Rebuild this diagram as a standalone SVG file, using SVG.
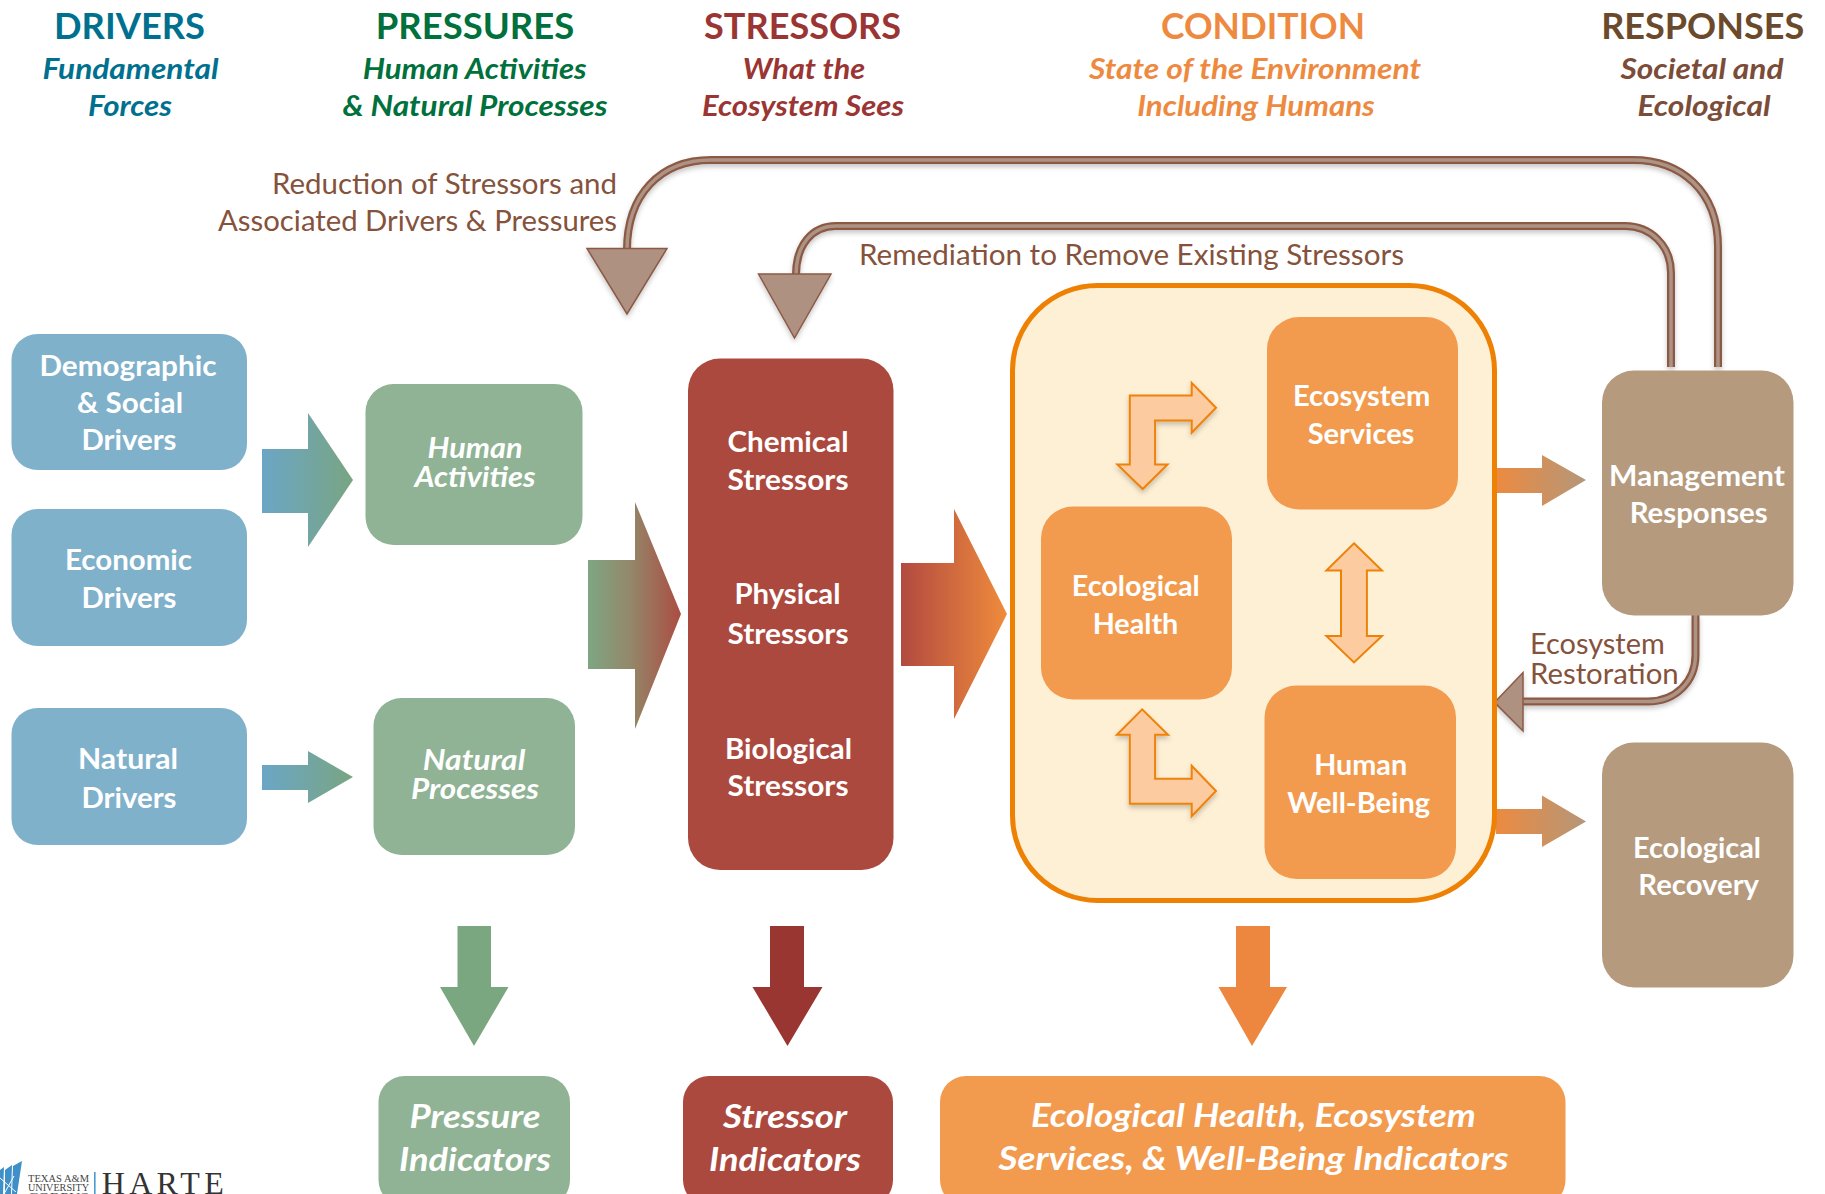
<svg xmlns="http://www.w3.org/2000/svg" width="1825" height="1194" viewBox="0 0 1825 1194">
<style>
text{font-family:Lato,"Liberation Sans",sans-serif;text-anchor:middle}
.h{font-size:37px;font-weight:700}
.s{font-size:28.5px;font-weight:700;font-style:italic}
.n{font-size:29px;font-weight:700;fill:#fff}
.ni{font-size:29px;font-weight:700;font-style:italic;fill:#fff}
.b{font-size:33px;font-weight:700;font-style:italic;fill:#fff}
.l{font-size:28.5px;fill:#85523c}
.blue{fill:#7fb1cb}.green{fill:#8fb394}.red{fill:#ab493f}.orange{fill:#f29b4f}.tan{fill:#b59a7e}
.dk{fill:none;stroke:#8b5a45;stroke-width:8}
.lt{fill:none;stroke:#ae9384;stroke-width:3.5}
.hd{fill:#ae9181;stroke:#8b5a45;stroke-width:1.5}
.dbl{fill:#fccba0;stroke:#ee8208;stroke-width:2}
.serif{font-family:"Liberation Serif",serif}
</style>
<defs>
<linearGradient id="gb"><stop offset="0" stop-color="#6ba6c6"/><stop offset="1" stop-color="#79a582"/></linearGradient>
<linearGradient id="gg"><stop offset="0" stop-color="#7ea683"/><stop offset="0.45" stop-color="#93886a"/><stop offset="1" stop-color="#ab4d42"/></linearGradient>
<linearGradient id="gr"><stop offset="0" stop-color="#b24a40"/><stop offset="1" stop-color="#ef8b3c"/></linearGradient>
<linearGradient id="go"><stop offset="0" stop-color="#ec8a40"/><stop offset="1" stop-color="#b4977a"/></linearGradient>
<filter id="sh" x="-20%" y="-20%" width="140%" height="140%"><feDropShadow dx="0" dy="3" stdDeviation="2.5" flood-color="#000" flood-opacity="0.22"/></filter>
</defs>

<g id="headers">
<text class="h" fill="#00708f" x="129.5" y="38.5" textLength="151" lengthAdjust="spacingAndGlyphs">DRIVERS</text>
<text class="s" fill="#00708f" x="130.5" y="78.7" textLength="176" lengthAdjust="spacingAndGlyphs">Fundamental</text>
<text class="s" fill="#00708f" x="130" y="115.7" textLength="84" lengthAdjust="spacingAndGlyphs">Forces</text>
<text class="h" fill="#00703c" x="475" y="38.5" textLength="198.5" lengthAdjust="spacingAndGlyphs">PRESSURES</text>
<text class="s" fill="#00703c" x="474.7" y="78.7" textLength="224" lengthAdjust="spacingAndGlyphs">Human Activities</text>
<text class="s" fill="#00703c" x="475" y="115.7" textLength="265" lengthAdjust="spacingAndGlyphs">&amp; Natural Processes</text>
<text class="h" fill="#9a3534" x="802.6" y="38.5" textLength="197" lengthAdjust="spacingAndGlyphs">STRESSORS</text>
<text class="s" fill="#9a3534" x="804" y="78.7" textLength="122.5" lengthAdjust="spacingAndGlyphs">What the</text>
<text class="s" fill="#9a3534" x="803" y="115.7" textLength="202" lengthAdjust="spacingAndGlyphs">Ecosystem Sees</text>
<text class="h" fill="#ee8a3f" x="1263" y="38.5" textLength="204" lengthAdjust="spacingAndGlyphs">CONDITION</text>
<text class="s" fill="#ee8a3f" x="1255" y="78.7" textLength="332" lengthAdjust="spacingAndGlyphs">State of the Environment</text>
<text class="s" fill="#ee8a3f" x="1256" y="115.7" textLength="237.5" lengthAdjust="spacingAndGlyphs">Including Humans</text>
<text class="h" fill="#6b4a2c" x="1702.7" y="38.5" textLength="203" lengthAdjust="spacingAndGlyphs">RESPONSES</text>
<text class="s" fill="#7b4c38" x="1702" y="78.7" textLength="163" lengthAdjust="spacingAndGlyphs">Societal and</text>
<text class="s" fill="#7b4c38" x="1704" y="115.7" textLength="133" lengthAdjust="spacingAndGlyphs">Ecological</text>
</g>

<g id="connectors">
<polygon fill="url(#gb)" points="262,449 308,449 308,413 353,480 308,547 308,513 262,513"/>
<polygon fill="url(#gb)" points="262,765 308,765 308,751 353,777 308,803 308,790 262,790"/>
<polygon fill="url(#gg)" points="588,560 635,560 635,502 681,614 635,729 635,669 588,669"/>
<polygon fill="url(#gr)" points="901,563 954,563 954,509 1007,614 954,719 954,666 901,666"/>
<polygon fill="url(#go)" points="1496,468 1542,468 1542,455 1586,480 1542,506 1542,493 1496,493"/>
<polygon fill="url(#go)" points="1496,809 1542,809 1542,795.5 1586,821.5 1542,847 1542,834 1496,834"/>
<polygon fill="#7ba780" points="457.5,926 491,926 491,987 508.5,987 474,1046 440,987 457.5,987"/>
<polygon fill="#993631" points="770,926 804,926 804,987 822.5,987 787.5,1046 752.5,987 770,987"/>
<polygon fill="#ed873f" points="1236,926 1270,926 1270,987 1287,987 1252,1046 1218.5,987 1236,987"/>
<g filter="url(#sh)">
<path class="dk" d="M1718,367V247C1718,190 1680,160 1633,160H711C660,160 627,195 627,250"/>
<path class="lt" d="M1718,367V247C1718,190 1680,160 1633,160H711C660,160 627,195 627,250"/>
<polygon class="hd" points="587,248.5 667,248.5 627,314"/>
<path class="dk" d="M1671,367V273C1671,245 1650,226 1625,226H836C812,226 796,245 796,275"/>
<path class="lt" d="M1671,367V273C1671,245 1650,226 1625,226H836C812,226 796,245 796,275"/>
<polygon class="hd" points="758.5,274 831,274 794.5,338"/>
<path class="dk" d="M1695.5,615V655C1695.5,682 1675,701.5 1648,701.5H1523"/>
<path class="lt" d="M1695.5,615V655C1695.5,682 1675,701.5 1648,701.5H1523"/>
<polygon class="hd" points="1523,672.5 1523,731 1494.5,702.4"/>
</g>
</g>

<g id="feedback-labels">
<text class="l" style="text-anchor:end" x="617" y="194" textLength="345" lengthAdjust="spacingAndGlyphs">Reduction of Stressors and</text>
<text class="l" style="text-anchor:end" x="617" y="231" textLength="399" lengthAdjust="spacingAndGlyphs">Associated Drivers &amp; Pressures</text>
<text class="l" style="text-anchor:start" x="859" y="265" textLength="545" lengthAdjust="spacingAndGlyphs">Remediation to Remove Existing Stressors</text>
<text class="l" style="text-anchor:start" x="1530" y="654.3" textLength="134.7" lengthAdjust="spacingAndGlyphs">Ecosystem</text>
<text class="l" style="text-anchor:start" x="1530" y="684" textLength="148.7" lengthAdjust="spacingAndGlyphs">Restoration</text>
</g>

<g id="demographic"><rect class="blue" x="11.5" y="334" width="235.5" height="136" rx="26"/>
<text class="n" x="128" y="376" textLength="177" lengthAdjust="spacingAndGlyphs">Demographic</text>
<text class="n" x="130" y="413.4" textLength="106" lengthAdjust="spacingAndGlyphs">&amp; Social</text>
<text class="n" x="129" y="450.4" textLength="95" lengthAdjust="spacingAndGlyphs">Drivers</text></g>
<g id="economic"><rect class="blue" x="11.5" y="509" width="235.5" height="137" rx="26"/>
<text class="n" x="128.5" y="570" textLength="127" lengthAdjust="spacingAndGlyphs">Economic</text>
<text class="n" x="129" y="608" textLength="95" lengthAdjust="spacingAndGlyphs">Drivers</text></g>
<g id="natural"><rect class="blue" x="11.5" y="708" width="235.5" height="137" rx="26"/>
<text class="n" x="128" y="769" textLength="100" lengthAdjust="spacingAndGlyphs">Natural</text>
<text class="n" x="129" y="807.5" textLength="95" lengthAdjust="spacingAndGlyphs">Drivers</text></g>
<g id="human-activities"><rect class="green" x="365.5" y="384" width="217" height="161" rx="28"/>
<text class="ni" x="475" y="458" textLength="95" lengthAdjust="spacingAndGlyphs">Human</text>
<text class="ni" x="475" y="487" textLength="121" lengthAdjust="spacingAndGlyphs">Activities</text></g>
<g id="natural-processes"><rect class="green" x="373.5" y="698" width="201.5" height="157" rx="28"/>
<text class="ni" x="474" y="769.5" textLength="102.5" lengthAdjust="spacingAndGlyphs">Natural</text>
<text class="ni" x="475" y="798.6" textLength="128" lengthAdjust="spacingAndGlyphs">Processes</text></g>
<g id="stressors"><rect class="red" x="688" y="358.5" width="205.5" height="511.5" rx="32"/>
<text class="n" x="788" y="452" textLength="121" lengthAdjust="spacingAndGlyphs">Chemical</text>
<text class="n" x="788" y="490" textLength="121" lengthAdjust="spacingAndGlyphs">Stressors</text>
<text class="n" x="787.5" y="604" textLength="106" lengthAdjust="spacingAndGlyphs">Physical</text>
<text class="n" x="788" y="643.8" textLength="121" lengthAdjust="spacingAndGlyphs">Stressors</text>
<text class="n" x="788.5" y="759" textLength="127" lengthAdjust="spacingAndGlyphs">Biological</text>
<text class="n" x="788" y="796" textLength="121" lengthAdjust="spacingAndGlyphs">Stressors</text></g>

<g id="condition"><rect x="1012.5" y="285.5" width="482" height="615" rx="85" fill="#fef0d5" stroke="#ee8004" stroke-width="5"/></g>
<g id="condition-arrows">
<polygon class="dbl" filter="url(#sh)" points="1216,407.8 1191.7,382.9 1191.7,395.5 1129.8,395.5 1129.8,464.5 1117.4,464.5 1142.7,489 1167.5,464.5 1155.1,464.5 1155.1,420.4 1191.7,420.4 1191.7,432.7"/>
<polygon class="dbl" points="1354,543.3 1382,570.6 1366.9,570.6 1366.9,635.9 1382,635.9 1354,662.4 1326.4,635.9 1341,635.9 1341,570.6 1326.4,570.6"/>
<polygon class="dbl" filter="url(#sh)" points="1142.2,709.4 1168,734.7 1155.1,734.7 1155.1,778.8 1191.7,778.8 1191.7,765.7 1216,791 1191.7,816.3 1191.7,803.7 1129.8,803.7 1129.8,734.7 1116.9,734.7"/>
</g>
<g id="ecosystem-services"><rect class="orange" x="1267" y="317" width="191" height="192.5" rx="32"/>
<text class="n" x="1361.7" y="406" textLength="137.4" lengthAdjust="spacingAndGlyphs">Ecosystem</text>
<text class="n" x="1361" y="444" textLength="106.7" lengthAdjust="spacingAndGlyphs">Services</text></g>
<g id="ecological-health"><rect class="orange" x="1041" y="506.5" width="191" height="193" rx="32"/>
<text class="n" x="1135.7" y="596.3" textLength="128" lengthAdjust="spacingAndGlyphs">Ecological</text>
<text class="n" x="1135.5" y="633.5" textLength="85.7" lengthAdjust="spacingAndGlyphs">Health</text></g>
<g id="human-well-being"><rect class="orange" x="1264.5" y="685.5" width="191.5" height="193.5" rx="32"/>
<text class="n" x="1360.7" y="775" textLength="93" lengthAdjust="spacingAndGlyphs">Human</text>
<text class="n" x="1358.7" y="812.6" textLength="143" lengthAdjust="spacingAndGlyphs">Well-Being</text></g>
<g id="management"><rect class="tan" x="1602" y="370.5" width="191.5" height="245" rx="32"/>
<text class="n" x="1697" y="486" textLength="176" lengthAdjust="spacingAndGlyphs">Management</text>
<text class="n" x="1698.7" y="523" textLength="138" lengthAdjust="spacingAndGlyphs">Responses</text></g>
<g id="recovery"><rect class="tan" x="1602" y="742.5" width="191.5" height="245" rx="32"/>
<text class="n" x="1697" y="857.6" textLength="128" lengthAdjust="spacingAndGlyphs">Ecological</text>
<text class="n" x="1698.7" y="895" textLength="120.7" lengthAdjust="spacingAndGlyphs">Recovery</text></g>

<g id="pressure-indicators"><rect class="green" x="378.5" y="1076" width="191.5" height="130" rx="26"/>
<text class="b" x="475" y="1128" textLength="131" lengthAdjust="spacingAndGlyphs">Pressure</text>
<text class="b" x="475" y="1171" textLength="152" lengthAdjust="spacingAndGlyphs">Indicators</text></g>
<g id="stressor-indicators"><rect class="red" x="683" y="1076" width="210" height="130" rx="26"/>
<text class="b" x="785" y="1128" textLength="124" lengthAdjust="spacingAndGlyphs">Stressor</text>
<text class="b" x="785" y="1171" textLength="152" lengthAdjust="spacingAndGlyphs">Indicators</text></g>
<g id="condition-indicators"><rect class="orange" x="940" y="1076" width="625.5" height="130" rx="26"/>
<text class="b" x="1253.5" y="1127" textLength="445" lengthAdjust="spacingAndGlyphs">Ecological Health, Ecosystem</text>
<text class="b" x="1253.5" y="1170" textLength="510" lengthAdjust="spacingAndGlyphs">Services, &amp; Well-Being Indicators</text></g>

<g id="logo">
<polygon fill="#3f8fc8" points="0,1170 4,1167 3,1194 0,1194"/>
<polygon fill="#3f8fc8" points="5,1170 12,1165 11,1194 5,1194"/>
<polygon fill="#3f8fc8" points="13,1166 22,1161 17,1194 12,1194"/>
<path d="M0,1178L16,1192M14,1176L4,1194" stroke="#fff" stroke-width="1" fill="none"/>
<text class="serif" x="58.5" y="1181.7" font-size="9.5" fill="#444" textLength="61" lengthAdjust="spacingAndGlyphs">TEXAS A&amp;M</text>
<text class="serif" x="58.5" y="1190.5" font-size="9.5" fill="#444" textLength="61" lengthAdjust="spacingAndGlyphs">UNIVERSITY</text>
<text class="serif" x="58.5" y="1199.5" font-size="9.5" fill="#444" textLength="61" lengthAdjust="spacingAndGlyphs">CORPUS</text>
<rect x="94" y="1172" width="1.6" height="22" fill="#4a9bcf"/>
<text class="serif" style="text-anchor:start" x="101.7" y="1194" font-size="32" fill="#333" textLength="122" lengthAdjust="spacing">HARTE</text>
</g>
</svg>
